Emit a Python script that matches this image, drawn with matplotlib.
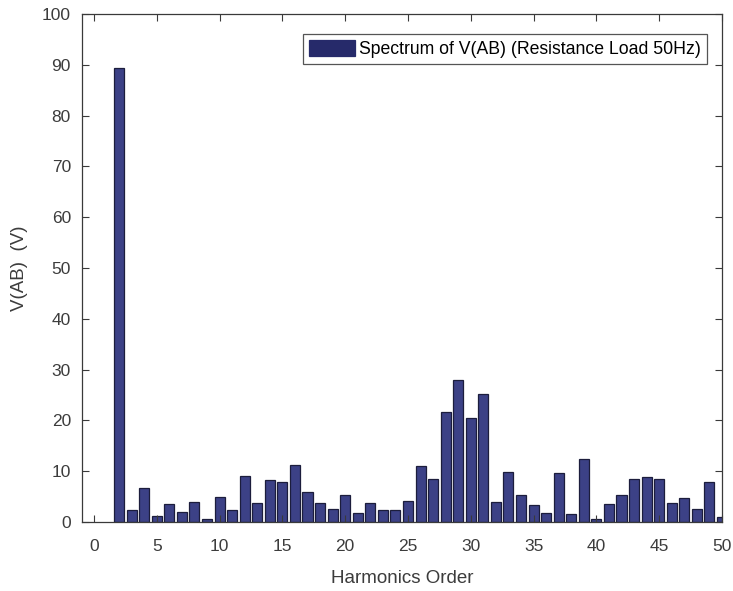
import matplotlib
matplotlib.use("Agg")
import matplotlib.pyplot as plt
import numpy as np

plt.rcParams['font.family'] = ['Liberation Sans', 'DejaVu Sans']

harmonic_order = list(range(2, 51))
vab_amplitude = [
    89.4, 2.4, 6.7, 1.1, 3.5, 2.0, 4.0, 0.5, 5.0, 2.4,
    9.0, 3.7, 8.3, 7.9, 11.2, 5.9, 3.8, 2.6, 5.3, 1.8,
    3.7, 2.4, 2.4, 4.2, 11.0, 8.4, 21.6, 28.0, 20.5, 25.1,
    4.0, 9.9, 5.4, 3.4, 1.8, 9.6, 1.6, 12.5, 0.6, 3.5,
    5.4, 8.5, 8.8, 8.5, 3.8, 4.7, 2.6, 7.9, 1.0,
]
legend_label = "Spectrum of V(AB) (Resistance Load 50Hz)"
x_ticks = list(range(0, 51, 5))
y_ticks = list(range(0, 101, 10))

fig = plt.figure(figsize=(7.33, 5.91), dpi=100)
ax = fig.add_axes([82 / 733, 69 / 591, 640 / 733, 508 / 591])

ax.bar(harmonic_order, vab_amplitude, width=0.8, color='#3c4186',
       edgecolor='#1c1d3c', linewidth=0.9, label=legend_label)

ax.set_xlim(-0.95, 50)
ax.set_ylim(0, 100)
ax.set_xticks(x_ticks)
ax.set_yticks(y_ticks)

axis_col = '#3a3a3a'
for s in ax.spines.values():
    s.set_color(axis_col)
    s.set_linewidth(0.9)
ax.tick_params(direction='in', top=True, right=True, length=5,
               width=0.8, colors=axis_col, labelsize=12.5,
               labelcolor='#3c3c3c')
ax.tick_params(axis='x', pad=12)
ax.tick_params(axis='y', pad=8)

ax.set_xlabel("Harmonics Order", fontsize=13.5, color='#3c3c3c', labelpad=12)
ax.set_ylabel("V(AB)  (V)", fontsize=13.5, color='#3c3c3c', labelpad=10)

leg = ax.legend(loc='upper right', bbox_to_anchor=(0.977, 0.961),
                fontsize=12.7, frameon=True, fancybox=False,
                borderpad=0.35, handlelength=2.6, handleheight=1.05,
                handletextpad=0.25, borderaxespad=0.0)
leg.get_frame().set_edgecolor('#2a2a2a')
leg.get_frame().set_linewidth(0.9)
leg.legend_handles[0].set_color('#262a6a')

fig.savefig("out.png", dpi=100)
